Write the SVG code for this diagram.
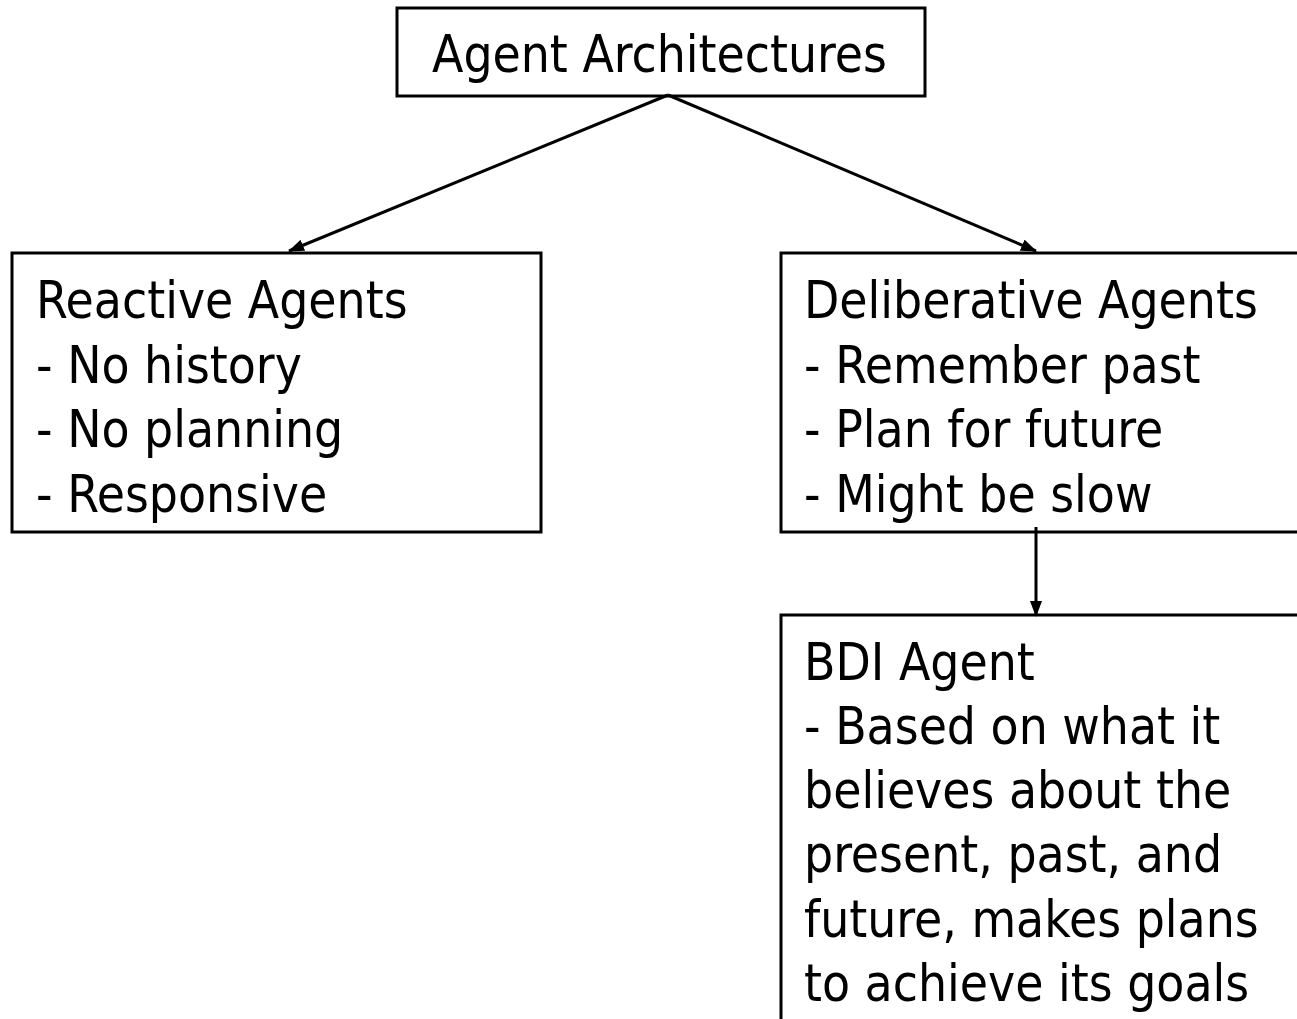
<svg xmlns="http://www.w3.org/2000/svg" width="1297" height="1019" viewBox="0 0 1297 1019">
<style>
.box{fill:#fff;stroke:#000;stroke-width:3}
.t{font-family:"DejaVu Sans Condensed","DejaVu Sans",sans-serif;font-stretch:condensed;font-size:51px;fill:#000}
.c{stroke:#000;stroke-width:3;fill:none}
</style>
<defs>
<marker id="ah" viewBox="0 0 16 12" refX="15" refY="6" markerWidth="16" markerHeight="12" markerUnits="userSpaceOnUse" orient="auto">
<path d="M0,0 L16,6 L0,12 z" fill="#000"/>
</marker>
</defs>
<rect width="1297" height="1019" fill="#fff"/>
<g id="agent-architectures">
<rect class="box" x="397" y="8" width="528" height="88"/>
<text class="t" x="432" y="72">Agent Architectures</text>
</g>
<g id="reactive-agents">
<rect class="box" x="12" y="253" width="529" height="279"/>
<text class="t" x="36" y="318">Reactive Agents</text>
<text class="t" x="36" y="383">- No history</text>
<text class="t" x="36" y="447">- No planning</text>
<text class="t" x="36" y="512">- Responsive</text>
</g>
<g id="deliberative-agents">
<rect class="box" x="781" y="253" width="600" height="279"/>
<text class="t" x="804" y="318">Deliberative Agents</text>
<text class="t" x="804" y="383">- Remember past</text>
<text class="t" x="804" y="447">- Plan for future</text>
<text class="t" x="804" y="512">- Might be slow</text>
</g>
<g id="bdi-agent">
<rect class="box" x="781" y="615" width="600" height="500"/>
<text class="t" x="804" y="680">BDI Agent</text>
<text class="t" x="804" y="744">- Based on what it</text>
<text class="t" x="804" y="808">believes about the</text>
<text class="t" x="804" y="872">present, past, and</text>
<text class="t" x="804" y="937">future, makes plans</text>
<text class="t" x="804" y="1001">to achieve its goals</text>
</g>
<g id="connectors">
<line class="c" x1="668" y1="95" x2="289" y2="251" marker-end="url(#ah)"/>
<line class="c" x1="668" y1="95" x2="1036" y2="251" marker-end="url(#ah)"/>
<line class="c" x1="1036" y1="527" x2="1036" y2="616" marker-end="url(#ah)"/>
</g>
</svg>
